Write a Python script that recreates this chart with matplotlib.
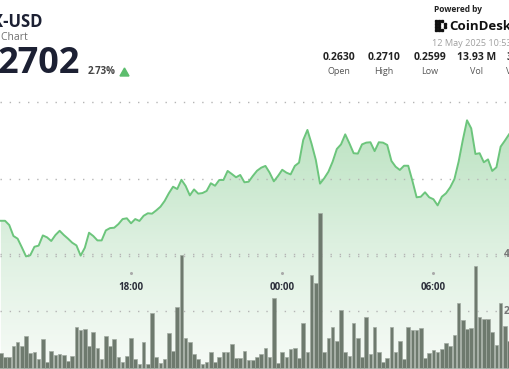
import numpy as np
import pandas as pd
import matplotlib
matplotlib.use("Agg")
import matplotlib.pyplot as plt
import matplotlib.dates as mdates
from matplotlib.colors import LinearSegmentedColormap

# price and volume, one point every 10 minutes
times = pd.date_range("2025-05-11 12:50", periods=122, freq="10min")

price = [
    0.26583, 0.26583, 0.26561, 0.26504, 0.26490, 0.26445, 0.26398, 0.26404, 0.26448, 0.26454,
    0.26507, 0.26497, 0.26478, 0.26509, 0.26531, 0.26509, 0.26490, 0.26469, 0.26455, 0.26402,
    0.26443, 0.26521, 0.26504, 0.26481, 0.26481, 0.26533, 0.26545, 0.26547, 0.26566, 0.26592,
    0.26596, 0.26570, 0.26592, 0.26582, 0.26609, 0.26622, 0.26620, 0.26637, 0.26656, 0.26686,
    0.26726, 0.26760, 0.26748, 0.26796, 0.26764, 0.26715, 0.26746, 0.26724, 0.26727, 0.26738,
    0.26778, 0.26765, 0.26795, 0.26795, 0.26842, 0.26826, 0.26809, 0.26821, 0.26783, 0.26786,
    0.26816, 0.26843, 0.26859, 0.26868, 0.26833, 0.26788, 0.26816, 0.26848, 0.26833, 0.26824,
    0.26868, 0.26885, 0.27003, 0.27055, 0.26982, 0.26899, 0.26776, 0.26804, 0.26838, 0.26890,
    0.26956, 0.26980, 0.27032, 0.26985, 0.26934, 0.26932, 0.26980, 0.26989, 0.26991, 0.26945,
    0.26991, 0.26989, 0.26977, 0.26894, 0.26864, 0.26847, 0.26869, 0.26869, 0.26790, 0.26705,
    0.26708, 0.26731, 0.26705, 0.26695, 0.26663, 0.26708, 0.26726, 0.26757, 0.26800, 0.26890,
    0.27003, 0.27105, 0.27063, 0.26930, 0.26934, 0.26887, 0.26902, 0.26842, 0.26861, 0.26968,
    0.26999, 0.27032,
]

volume = [
    0.53, 0.37, 0.40, 0.78, 0.90, 0.76, 1.11, 0.53, 0.58, 0.32,
    1.02, 0.20, 0.61, 0.46, 0.48, 0.46, 0.23, 0.43, 1.43, 1.33,
    1.38, 0.76, 1.26, 0.70, 0.32, 1.11, 0.76, 1.03, 0.40, 0.21,
    0.43, 1.05, 0.32, 0.15, 0.90, 0.15, 1.95, 0.39, 0.18, 0.33,
    1.23, 0.60, 2.16, 3.96, 1.05, 0.92, 0.50, 0.32, 0.15, 0.20,
    0.57, 0.22, 0.39, 0.57, 0.55, 0.85, 0.36, 0.36, 0.60, 0.29,
    0.29, 0.37, 0.49, 0.72, 0.37, 2.45, 0.18, 0.57, 0.37, 0.66,
    0.71, 0.36, 1.59, 0.58, 3.29, 2.98, 5.47, 0.58, 1.05, 1.46,
    0.96, 2.04, 0.58, 0.41, 1.57, 1.04, 0.39, 1.78, 0.49, 1.46,
    0.56, 0.20, 0.35, 1.44, 0.56, 0.94, 0.33, 1.44, 1.35, 1.32,
    1.41, 0.35, 0.53, 0.63, 0.58, 0.68, 0.88, 0.76, 1.17, 2.28,
    1.70, 1.37, 1.41, 3.60, 1.79, 1.73, 1.74, 1.26, 0.80, 2.27,
    1.49, 0.94,
]

time_ticks = pd.to_datetime(["2025-05-11 18:00", "2025-05-12 00:00", "2025-05-12 06:00"])
time_labels = ["18:00", "00:00", "06:00"]
price_grid = [0.264, 0.268, 0.272]
vol_grid = [2, 4]

stats_values = ["0.2630", "0.2710", "0.2599", "13.93 M"]
stats_names = ["Open", "High", "Low", "Vol"]

FONT = "Open Sans"
DARK = "#1c2033"
GREEN = "#6cc57c"

fig = plt.figure(figsize=(5.1, 3.69), dpi=100)
ax = fig.add_axes([0, 0, 1, 1])
axv = ax.twinx()
ax.set_zorder(1)
axv.set_zorder(2)
for a in (ax, axv):
    a.set_axis_off()
    a.patch.set_visible(False)
fig.patch.set_facecolor("white")

tnum = mdates.date2num(times)
xmin = mdates.date2num(pd.Timestamp("2025-05-11 12:48"))
xmax = mdates.date2num(pd.Timestamp("2025-05-12 09:02:20"))
ybot, ytop = 0.25813, 0.27730
ax.set_xlim(xmin, xmax)
ax.set_ylim(ybot, ytop)
axv.set_ylim(-0.035, 12.95)

# gradient fill under the price line
cmap = LinearSegmentedColormap.from_list("g", ["#f7fbf7", "#ddf0e0", "#bae2c0"])
grad = np.linspace(0, 1, 256).reshape(-1, 1)
poly = ax.fill_between(tnum, price, ybot, color="none", lw=0)
im = ax.imshow(grad, extent=[xmin, xmax, ybot, 0.2712], origin="lower",
               aspect="auto", cmap=cmap, zorder=1)
im.set_clip_path(poly.get_paths()[0], transform=ax.transData)
ax.plot(tnum, price, color=GREEN, lw=1.4, zorder=4, solid_joinstyle="round")

# dotted grid
for g in price_grid:
    ax.axhline(g, color="#b5b5b5", lw=1.0, ls=(0, (1, 5.6)), zorder=2)
for g in vol_grid:
    axv.axhline(g, color="#b5b5b5", lw=1.0, ls=(0, (1, 5.6)), zorder=1)

# volume bars
axv.bar(tnum, volume, width=0.88 / 144, color="#6e7a6e", edgecolor="#a2aba2",
        linewidth=0.5, zorder=3)
for g in vol_grid:
    axv.text(xmax, g, str(g), ha="right", va="center", fontsize=7.5,
             family=FONT, fontweight="bold", color="#777777", zorder=5)

# time labels with small tick dots
for t, lab in zip(mdates.date2num(time_ticks), time_labels):
    axv.text(t, 2.84, lab, ha="center", va="center", fontsize=7, family=FONT,
             fontweight="bold", color="#2b2e3a", zorder=5)
    axv.plot([t], [3.33], marker="o", ms=1.2, color="#aaaaaa", zorder=5)

# header, left
W, H = 510, 369
def fx(px):
    return px / W
def fy(py):
    return 1 - py / H

fig.text(fx(43), fy(22), "X-USD", ha="right", va="center", fontsize=12,
         family=FONT, fontweight="bold", color=DARK)
fig.text(fx(28), fy(37), "r Chart", ha="right", va="center", fontsize=7.5,
         family=FONT, color="#6f6f6f")
fig.text(fx(80), fy(64), "2702", ha="right", va="center", fontsize=26,
         family=FONT, fontweight="bold", color=DARK)
fig.text(fx(88), fy(72), "2.73%", ha="left", va="center", fontsize=7,
         family=FONT, fontweight="bold", color="#444444")
fig.patches.append(plt.Polygon([[fx(120), fy(76)], [fx(129), fy(76)], [fx(124.5), fy(68)]],
                               closed=True, transform=fig.transFigure,
                               color="#5cbd6d", figure=fig))

# header, right
fig.text(fx(434), fy(10), "Powered by", ha="left", va="center", fontsize=6,
         family=FONT, fontweight="bold", color="#222222")
for dx, dy in [(0, 0), (0, 3), (0, 6), (0, 9), (3, 0), (6, 0), (3, 9), (6, 9),
               (9, 3), (9, 6), (3, 3), (3, 6)]:
    fig.patches.append(plt.Rectangle((fx(435 + dx), fy(31 - dy)), 2 / W, 2 / H,
                                     transform=fig.transFigure, color="#111111",
                                     figure=fig))
fig.text(fx(449), fy(27), "CoinDesk", ha="left", va="center", fontsize=9.5,
         family=FONT, fontweight="bold", color="#111111")
fig.text(fx(432), fy(44), "12 May 2025 10:53", ha="left", va="center",
         fontsize=6.6, family=FONT, color="#a0a0a0")

for cx, v, n in zip([339, 384, 430, 477], stats_values, stats_names):
    fig.text(fx(cx), fy(58), v, ha="center", va="center", fontsize=7.5,
             family=FONT, fontweight="bold", color="#222222")
    fig.text(fx(cx), fy(72), n, ha="center", va="center", fontsize=6.5,
             family=FONT, color="#555555")
# last column is cut by the right edge in the reference
fig.text(fx(506.5), fy(58), "3", ha="left", va="center", fontsize=7.5,
         family=FONT, fontweight="bold", color="#222222")
fig.text(fx(506.5), fy(72), "V", ha="left", va="center", fontsize=6.5,
         family=FONT, color="#555555")

fig.savefig("out.png", dpi=100)
